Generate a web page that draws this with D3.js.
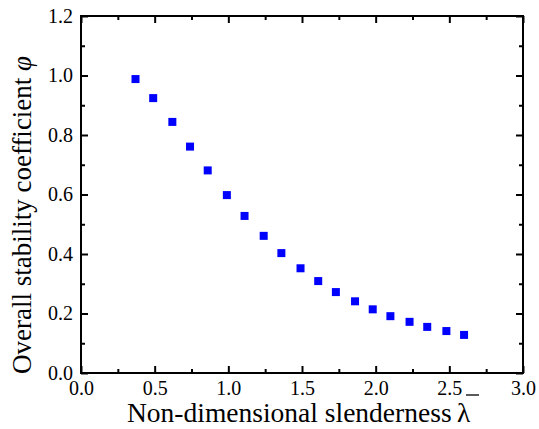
<!DOCTYPE html>
<html>
<head>
<meta charset="utf-8">
<script src="https://cdn.jsdelivr.net/npm/d3@7"></script>
<style>
  body { margin: 0; background: #fff; }
  text { font-family: "Liberation Serif", "Times New Roman", serif !important; fill: #000; }
</style>
</head>
<body>
<svg id="chart" width="539" height="429"></svg>
<script>
// data
let lambdaVals = [0.37, 0.49, 0.62, 0.74, 0.86, 0.99, 1.11, 1.24, 1.36, 1.49,
                  1.61, 1.73, 1.86, 1.98, 2.10, 2.23, 2.35, 2.48, 2.60];
let phiVals = [0.988, 0.924, 0.844, 0.761, 0.681, 0.598, 0.528, 0.461, 0.403, 0.352,
               0.309, 0.272, 0.241, 0.214, 0.191, 0.172, 0.155, 0.141, 0.128];
let xTicks = [0, 0.5, 1.0, 1.5, 2.0, 2.5, 3.0];
let yTicks = [0, 0.2, 0.4, 0.6, 0.8, 1.0, 1.2];

let svg = d3.select('#chart');
let margin = {left: 81, right: 16, top: 16, bottom: 56};
let W = 539, H = 429;
let serif = '"Liberation Serif", "Times New Roman", serif';

let x = d3.scaleLinear().domain([0, 3]).range([margin.left, W - margin.right]);
let y = d3.scaleLinear().domain([0, 1.2]).range([H - margin.bottom, margin.top]);

// minor ticks
let xMinor = d3.range(0.25, 3, 0.5);
let yMinor = d3.range(0.1, 1.2, 0.2);

function styleAxis(g) {
    g.attr('font-family', serif).attr('font-size', 20);
    g.select('.domain').remove();
    g.selectAll('.tick line').attr('stroke', '#000').attr('stroke-width', 2);
    g.selectAll('.tick text').attr('fill', '#000');
}

// bottom
svg.append('g').attr('transform', `translate(0,${y(0)})`)
    .call(d3.axisBottom(x).tickValues(xTicks).tickFormat(d3.format('.1f')).tickSizeInner(-7).tickPadding(8))
    .call(styleAxis);
svg.append('g').attr('transform', `translate(0,${y(0)})`)
    .call(d3.axisBottom(x).tickValues(xMinor).tickFormat('').tickSizeInner(-4))
    .call(styleAxis);
// top
svg.append('g').attr('transform', `translate(0,${y(1.2)})`)
    .call(d3.axisTop(x).tickValues(xTicks).tickFormat('').tickSizeInner(-7))
    .call(styleAxis);
svg.append('g').attr('transform', `translate(0,${y(1.2)})`)
    .call(d3.axisTop(x).tickValues(xMinor).tickFormat('').tickSizeInner(-4))
    .call(styleAxis);
// left
svg.append('g').attr('transform', `translate(${x(0)},0)`)
    .call(d3.axisLeft(y).tickValues(yTicks).tickFormat(d3.format('.1f')).tickSizeInner(-7).tickPadding(8))
    .call(styleAxis);
svg.append('g').attr('transform', `translate(${x(0)},0)`)
    .call(d3.axisLeft(y).tickValues(yMinor).tickFormat('').tickSizeInner(-4))
    .call(styleAxis);
// right
svg.append('g').attr('transform', `translate(${x(3)},0)`)
    .call(d3.axisRight(y).tickValues(yTicks).tickFormat('').tickSizeInner(-7))
    .call(styleAxis);
svg.append('g').attr('transform', `translate(${x(3)},0)`)
    .call(d3.axisRight(y).tickValues(yMinor).tickFormat('').tickSizeInner(-4))
    .call(styleAxis);

// frame
svg.append('rect')
    .attr('x', x(0)).attr('y', y(1.2))
    .attr('width', x(3) - x(0)).attr('height', y(0) - y(1.2))
    .attr('fill', 'none').attr('stroke', '#000').attr('stroke-width', 2);

// points
let sz = 8;
svg.append('g').selectAll('rect')
    .data(lambdaVals)
    .join('rect')
    .attr('x', (d) => x(d) - sz / 2)
    .attr('y', (d, i) => y(phiVals[i]) - sz / 2)
    .attr('width', sz).attr('height', sz)
    .attr('fill', '#0000ff');

// axis titles
svg.append('text')
    .attr('x', 127).attr('y', 422)
    .style('font-size', '27.5px')
    .text('Non-dimensional slenderness');
svg.append('text')
    .attr('x', 457).attr('y', 422)
    .style('font-size', '27.5px')
    .text('λ');
svg.append('line')
    .attr('x1', 466).attr('x2', 479)
    .attr('y1', 395).attr('y2', 395)
    .attr('stroke', '#000').attr('stroke-width', 1.3);

svg.append('text')
    .attr('transform', 'translate(31,215) rotate(-90)')
    .attr('text-anchor', 'middle')
    .style('font-size', '27px')
    .html('Overall stability coefficient <tspan font-style="italic">φ</tspan>');
</script>
</body>
</html>
